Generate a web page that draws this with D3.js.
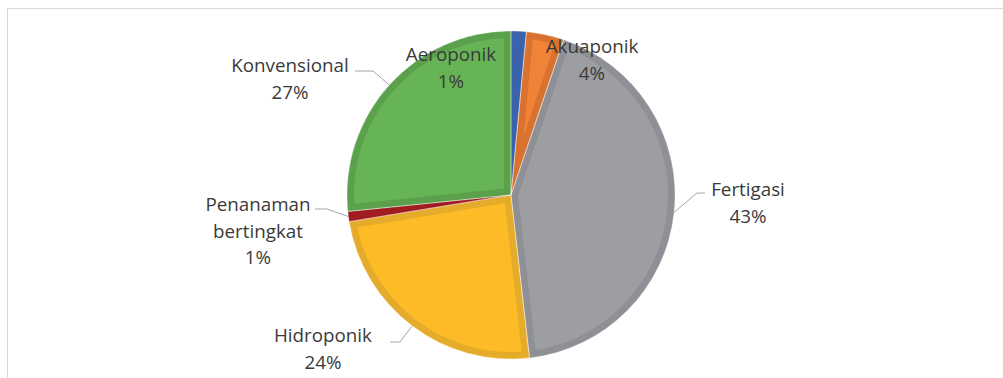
<!DOCTYPE html>
<html><head><meta charset="utf-8">
<script src="https://cdn.jsdelivr.net/npm/d3@7"></script>
<style>
html,body{margin:0;padding:0;background:#fff;}
svg{display:block;}
text{font-family:"Open Sans",sans-serif;font-size:18.8px;fill:#3a3a3a;}
</style></head>
<body>
<svg id="chart" width="1003" height="378"></svg>
<script>
// ---- data ----
const categories = ["Aeroponik", "Akuaponik", "Fertigasi", "Hidroponik", "Penanaman bertingkat", "Konvensional"];
const values = [1.5, 3.7, 43.0, 24.2, 1.0, 26.6];
const percentLabels = ["1%", "4%", "43%", "24%", "1%", "27%"];

// ---- style / layout ----
const fills   = ["#3f6dbf", "#f08338", "#9c9ea2", "#fcbb27", "#b51f24", "#67b457"];
const borders = ["#3a63ad", "#d9722f", "#8e9095", "#e5ab2b", "#a11c20", "#5ba04b"];
const cx = 511, cy = 195, R = 164;
const labelLayout = [
  {x: 451, y: 61, lines: ["Aeroponik"], leader: null},
  {x: 592, y: 53, lines: ["Akuaponik"], leader: null},
  {x: 748, y: 196, lines: ["Fertigasi"], leader: [[705,193],[697,193]]},
  {x: 323, y: 342, lines: ["Hidroponik"], leader: [[390,342],[400,342]]},
  {x: 258, y: 211, lines: ["Penanaman","bertingkat"], leader: [[315,209],[327,209]]},
  {x: 290, y: 72, lines: ["Konvensional"], leader: [[355,71],[373,71]]}
];
const lineH = 26.5;

const svg = d3.select("#chart");
svg.append("rect").attr("x", 7.5).attr("y", 8.5).attr("width", 1010).attr("height", 380)
  .attr("fill", "#fff").attr("stroke", "#d9d9d9").attr("stroke-width", 1);

const pie = d3.pie().sort(null).value(d => d);
const arcs = pie(values);
const arc = d3.arc().innerRadius(0).outerRadius(R);
const g = svg.append("g").attr("transform", `translate(${cx},${cy})`);
const defs = svg.append("defs");

arcs.forEach((a, i) => {
  defs.append("clipPath").attr("id", "clip" + i).append("path").attr("d", arc(a));
  g.append("path").attr("d", arc(a)).attr("fill", fills[i])
    .attr("stroke", borders[i]).attr("stroke-width", 14)
    .attr("stroke-linejoin", "miter")
    .attr("clip-path", `url(#clip${i})`);
});
arcs.forEach((a, i) => {
  g.append("path").attr("d", arc(a)).attr("fill", "none")
    .attr("stroke", "#ffffff").attr("stroke-width", 0.6).attr("stroke-opacity", 0.6);
});

// leaders
arcs.forEach((a, i) => {
  const L = labelLayout[i];
  if (!L.leader) return;
  const mid = (a.startAngle + a.endAngle) / 2;
  const end = [cx + R * Math.sin(mid), cy - R * Math.cos(mid)];
  const pts = L.leader.concat([end]);
  svg.append("path").attr("d", d3.line()(pts)).attr("fill", "none")
    .attr("stroke", "#a6a6a6").attr("stroke-width", 1);
});

// labels
arcs.forEach((a, i) => {
  const L = labelLayout[i];
  const t = svg.append("text").attr("text-anchor", "middle");
  const lines = L.lines.concat([percentLabels[i]]);
  lines.forEach((ln, k) => {
    t.append("tspan").attr("x", L.x).attr("y", L.y + k * lineH).text(ln);
  });
});
</script>
</body></html>
